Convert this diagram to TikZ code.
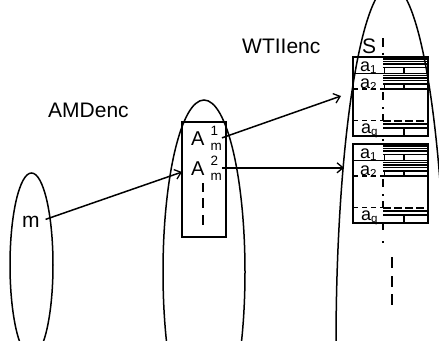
\documentclass[tikz,border=0pt]{standalone}
\usepackage{fontspec}
\setmainfont{Liberation Sans}
\usetikzlibrary{arrows.meta,shapes.geometric}
\newcommand\twoscr[2]{\hspace{6pt}\rlap{\raisebox{10pt}{\fontsize{13.5}{14}\selectfont #1}}\raisebox{-5pt}{\fontsize{13.5}{14}\selectfont #2}}
\newcommand\lowscr[1]{\raisebox{-2.5pt}{\fontsize{11.5}{12}\selectfont #1}}
\newcommand\brickrow[2]{%
  \draw[bl] (383,#1+2) -- (428,#1+2);
  \draw[bl] (383,#1+4.5) -- (428,#1+4.5);
  \draw[bl] (383,#1+7) -- (428,#1+7);
  \draw[bl] (383,#1+10.5) -- (428,#1+10.5);
  \draw[bl] (404,#1+10.5) -- (404,#2);
  \draw[bl] (384.5,#1+10.5) -- (384.5,#2);
}
\begin{document}
\begin{tikzpicture}[x=1pt,y=-1pt,
  outl/.style={line width=1.5pt},
  bl/.style={line width=1.3pt},
  dl/.style={line width=2pt},
  dsh/.style={line width=1.2pt,dash pattern=on 5pt off 4pt},
  arr/.style={line width=1.5pt,-{Straight Barb[length=6pt,width=10pt,line width=1.3pt]}},
  lbl/.style={inner sep=0pt,font=\fontsize{21}{24}\selectfont},
  albl/.style={inner sep=0pt,font=\fontsize{18}{19}\selectfont,anchor=base west}]
\useasboundingbox (0,0) rectangle (439,340);
\begin{scope}
\clip (0,0) rectangle (439,340);
% ellipses
\node[ellipse,draw,outl,minimum width=43pt,minimum height=184pt,inner sep=0pt] (e1) at (31.5,265) {};
\node[ellipse,draw,outl,minimum width=82pt,minimum height=344pt,inner sep=0pt] (e2) at (204,272) {};
\node[ellipse,draw,outl,minimum width=110pt,minimum height=720pt,inner sep=0pt] (e3) at (391,345) {};
% middle rectangle
\node[draw,outl,minimum width=44pt,minimum height=115pt,inner sep=0pt] (amrect) at (204,179.5) {};
\draw[dl] (203,183) -- (203,192);
\draw[dl] (203,198) -- (203,208);
\draw[dl] (203,215) -- (203,225);
% titles
\node[lbl,anchor=base west] (amd) at (48,117.5) {AMDenc};
\node[lbl,anchor=base west] (wti) at (242,53) {WTIIenc};
\node[lbl,anchor=base west] (m) at (22,227) {m};
\node[lbl,anchor=base west] (S) at (362,53) {S};
\node[lbl,anchor=base west,font=\fontsize{20}{24}\selectfont] (A1) at (191,145) {A\twoscr{1}{m}};
\node[lbl,anchor=base west,font=\fontsize{20}{24}\selectfont] (A2) at (191,175) {A\twoscr{2}{m}};
% blocks
\foreach \t in {57,144} {
  \draw[outl] (353,\t) rectangle (428,\t+79);
  \draw[bl] (353,\t+16.5) -- (428,\t+16.5);
  \draw[dsh] (353,\t+32) -- (383,\t+32);
  \draw[bl] (383,\t+32) -- (428,\t+32);
  \draw[dsh] (353,\t+63.5) -- (383,\t+63.5);
  \draw[line width=2pt,dash pattern=on 8pt off 3pt] (383,\t+63.5) -- (428,\t+63.5);
  \brickrow{\t}{\t+16.5}
  \brickrow{\t+16.5}{\t+32}
  \draw[line width=1.6pt] (383,\t+67) -- (428,\t+67);
  \draw[bl] (383,\t+71) -- (428,\t+71);
  \draw[bl] (404,\t+71) -- (404,\t+79);
  \draw[dl] (383,\t+35) -- (383,\t+43);
  \draw[dl] (383,\t+50) -- (383,\t+52);
  \draw[dl] (383,\t+57) -- (383,\t+63.5);
  \node[albl] (a1-\t) at (360,\t+14) {a\lowscr{1}};
  \node[albl] (a2-\t) at (360,\t+31) {a\lowscr{2}};
  \node[albl] (aq-\t) at (361,\t+76) {a\lowscr{q}};
}
% S axis
\draw[dl] (383,38) -- (383,47);
\draw[dl] (383,52.5) -- (383,54.5);
\draw[dl] (383,139) -- (383,141);
\draw[dl] (383,223) -- (383,230);
\draw[dl] (383,241) -- (383,243);
\draw[dl] (392,257) -- (392,268);
\draw[dl] (392,276) -- (392,287);
\draw[dl] (392,294) -- (392,305);
% arrows
\coordinate (t0) at (182,172);
\coordinate (t1) at (341,96);
\coordinate (t2) at (344,168);
\draw[arr,shorten <=6pt] (m.east) -- (t0);
\draw[arr] (A1.east) -- (t1);
\draw[arr] (A2.east) -- (A2.east -| t2);
\end{scope}
\end{tikzpicture}
\end{document}
